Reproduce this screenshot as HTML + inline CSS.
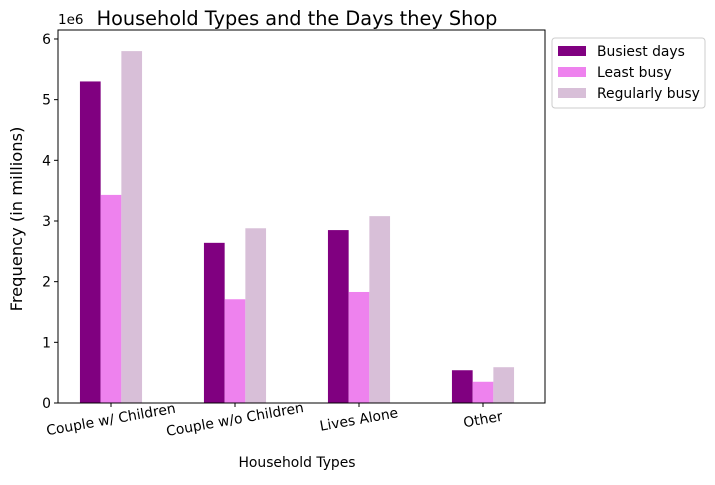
<!DOCTYPE html>
<html><head><meta charset="utf-8"><style>
body{margin:0;background:#fff;width:715px;height:480px;overflow:hidden;font-family:"Liberation Sans","DejaVu Sans",sans-serif;}
</style></head><body>
<svg id="chart" width="715" height="480" font-family="DejaVu Sans, Liberation Sans, sans-serif">
<text x="297" y="25" font-size="19.3" text-anchor="middle">Household Types and the Days they Shop</text>
<g id="bars"></g>
<g id="axes"></g>
<text x="297" y="467" font-size="13.9" text-anchor="middle">Household Types</text>
<text transform="translate(22,219) rotate(-90)" font-size="16.3" text-anchor="middle">Frequency (in millions)</text>
<text x="58" y="24" font-size="13.5">1e6</text>
<g>
<rect x="552" y="38" width="153" height="70" fill="#fff" stroke="#ccc" rx="3"/>
<g id="legend"></g>
</g>
</svg>
<script>
const categories=["Couple w/ Children","Couple w/o Children","Lives Alone","Other"];
const seriesNames=["Busiest days","Least busy","Regularly busy"];
const busiest=[5.30e6,2.64e6,2.85e6,0.54e6];
const leastBusy=[3.43e6,1.71e6,1.83e6,0.35e6];
const regularlyBusy=[5.80e6,2.88e6,3.08e6,0.59e6];
const yTicks=[0,1,2,3,4,5,6];
const colors=["#800080","#EE82EE","#D8BFD8"];
const series=[busiest,leastBusy,regularlyBusy];
const L=58,R=545,T=30,B=403;
const y=v=>B-v/1e6*60.67;
const xc=i=>111+124*i;
const bw=20.7;
const NS="http://www.w3.org/2000/svg";
function mk(tag,attrs,parent){const e=document.createElementNS(NS,tag);for(const k in attrs)e.setAttribute(k,attrs[k]);parent.appendChild(e);return e;}
const gb=document.getElementById('bars');
series.forEach((s,si)=>s.forEach((v,i)=>{
 const r=mk('rect',{x:xc(i)-1.5*bw+si*bw,y:y(v),width:bw,height:B-y(v),fill:colors[si]},gb);
 
 
}));
const ga=document.getElementById('axes');
const frame=mk('rect',{x:L,y:T,width:R-L,height:B-T,fill:'none',stroke:'#000','stroke-width':1},ga);


yTicks.forEach(t=>{
 mk('line',{x1:L-4,x2:L,y1:y(t*1e6),y2:y(t*1e6),stroke:'#000'},ga);
 const tx=mk('text',{x:L-7,y:y(t*1e6)+5,'font-size':13.9,'text-anchor':'end'},ga);
 tx.textContent=t;
 
 
});
categories.forEach((c,i)=>{
 mk('line',{x1:xc(i),x2:xc(i),y1:B,y2:B+4,stroke:'#000'},ga);
 const tx=mk('text',{transform:`translate(${xc(i)},${B+17}) rotate(-10)`,'font-size':13.9,'text-anchor':'middle','dominant-baseline':'middle'},ga);
 tx.textContent=c;
 
 
});
const gl=document.getElementById('legend');
seriesNames.forEach((n,i)=>{
 const yy=46+i*21;
 mk('rect',{x:558,y:yy,width:28,height:10,fill:colors[i]},gl);
 const tx=mk('text',{x:597,y:yy+10,'font-size':13.9},gl);
 tx.textContent=n;
 
 
});
</script>
</body></html>
